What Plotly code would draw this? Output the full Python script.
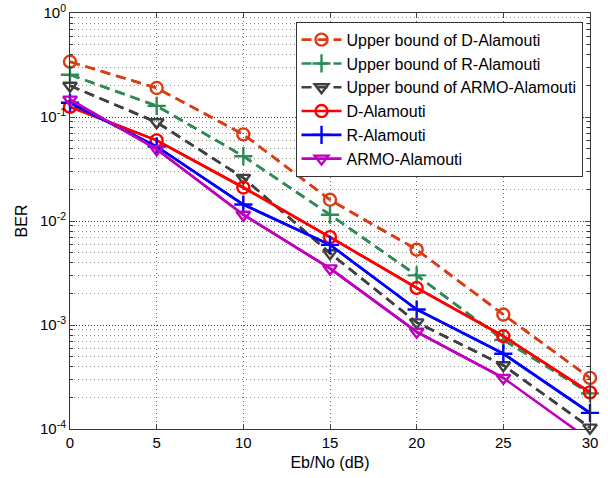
import plotly.graph_objects as go

# Eb/No sweep (dB)
ebno = [0, 5, 10, 15, 20, 25, 30]

# BER curves
ub_d_alamouti = [0.34, 0.19, 0.068, 0.016, 0.0053, 0.00126, 0.00031]
ub_r_alamouti = [0.255, 0.128, 0.042, 0.0115, 0.0030, 0.00072, 0.00022]
ub_armo_alamouti = [0.20, 0.089, 0.026, 0.0049, 0.00106, 0.00041, 0.000103]
d_alamouti = [0.125, 0.0596, 0.021, 0.0070, 0.00227, 0.00078, 0.000225]
r_alamouti = [0.137, 0.052, 0.0144, 0.0059, 0.00141, 0.00053, 0.000143]
armo_alamouti = [0.147, 0.049, 0.0115, 0.0035, 0.00086, 0.00031, 0.000078]

names = [
    "Upper bound of D-Alamouti",
    "Upper bound of R-Alamouti",
    "Upper bound of ARMO-Alamouti",
    "D-Alamouti",
    "R-Alamouti",
    "ARMO-Alamouti",
]

x_ticks = [0, 5, 10, 15, 20, 25, 30]
y_major = [1e-4, 1e-3, 1e-2, 1e-1, 1e0]
y_major_text = ["10<sup>-4</sup>", "10<sup>-3</sup>", "10<sup>-2</sup>",
                "10<sup>-1</sup>", "10<sup>0</sup>"]
y_minor = [m * 10.0 ** e for e in range(-4, 0) for m in range(2, 10)]
y_floor = 1e-4

series = [ub_d_alamouti, ub_r_alamouti, ub_armo_alamouti,
          d_alamouti, r_alamouti, armo_alamouti]
colors = ["#DC3C14", "#2E8B57", "#404040", "#FF0000", "#0000FF", "#BF00BF"]
dashes = ["10px,6px", "10px,6px", "10px,6px", "solid", "solid", "solid"]
symbols = ["circle-open", "cross-thin-open", "triangle-down-open",
           "circle-open", "cross-thin-open", "triangle-down-open"]
sizes = [12, 13, 12, 12, 13, 12]

fig = go.Figure()
for name, ys, col, dash, sym, sz in zip(names, series, colors, dashes, symbols, sizes):
    line = dict(color=col, width=2.6, dash=dash)
    # full curve, clipped to the plot area
    fig.add_trace(go.Scatter(
        x=ebno, y=ys, mode="lines", line=line, showlegend=False, hoverinfo="skip",
    ))
    # markers only for points inside the visible BER range, drawn unclipped
    pts = [(x, y) for x, y in zip(ebno, ys) if y >= y_floor]
    fig.add_trace(go.Scatter(
        x=[p[0] for p in pts], y=[p[1] for p in pts], name=name,
        mode="lines+markers", cliponaxis=False, line=line,
        marker=dict(symbol=sym, size=sz, color=col, line=dict(color=col, width=2.4)),
    ))

font_family = "Liberation Sans, Arial, sans-serif"

fig.update_layout(
    width=608, height=478,
    margin=dict(l=70, r=18, t=13, b=49),
    paper_bgcolor="white", plot_bgcolor="white",
    font=dict(family=font_family, size=15, color="black"),
    showlegend=True,
    legend=dict(
        x=0.9856, xanchor="right", y=0.979, yanchor="top",
        bgcolor="white", bordercolor="#333333", borderwidth=1,
        font=dict(size=16), tracegroupgap=0, itemwidth=40,
    ),
    xaxis=dict(
        range=[0, 30], tickvals=x_ticks, ticks="inside", ticklen=5,
        showline=True, linecolor="#333333", linewidth=1, mirror="ticks",
        showgrid=True, gridcolor="#6a6a6a", griddash="1px,3px", gridwidth=1,
        zeroline=False, automargin=False,
        title=dict(text="Eb/No (dB)", font=dict(size=16), standoff=6),
    ),
    yaxis=dict(
        type="log", range=[-4, 0], tickvals=y_major, ticktext=y_major_text,
        ticks="inside", ticklen=5,
        showline=True, linecolor="#333333", linewidth=1, mirror="ticks",
        showgrid=True, gridcolor="#333333", griddash="1px,2px", gridwidth=1,
        zeroline=False, automargin=False,
        minor=dict(tickvals=y_minor, showgrid=True, gridcolor="#8a8a8a",
                   griddash="1px,3px", ticks="inside", ticklen=3, tickcolor="#333333"),
        title=dict(text="BER", font=dict(size=16), standoff=8),
    ),
)

fig.write_html("out.html")
